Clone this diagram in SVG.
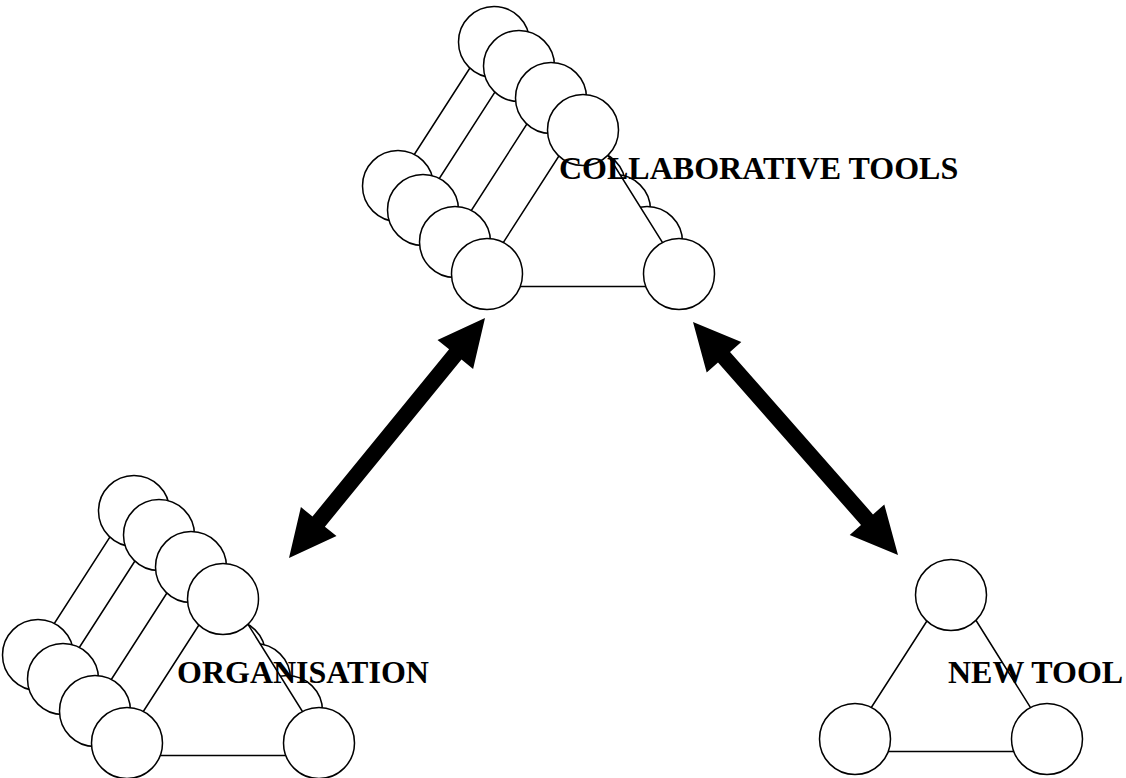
<svg xmlns="http://www.w3.org/2000/svg" xmlns:xlink="http://www.w3.org/1999/xlink" width="1126" height="778" viewBox="0 0 1126 778">
<style>
.ln{fill:#fff;stroke:#000;stroke-width:1.5}
.lbl{font-family:"Liberation Serif","Times New Roman",serif;font-weight:bold;font-size:32px;fill:#000}
.arr{fill:#000;stroke:none}
</style>
<defs>
<g id="layer">
<polygon class="ln" points="-12,12.5 97,-157 203,12.5"/>
<circle class="ln" cx="0" cy="0" r="35.5"/>
<circle class="ln" cx="96" cy="-144" r="35.5"/>
<circle class="ln" cx="192" cy="0" r="35.5"/>
</g>
</defs>
<rect width="1126" height="778" fill="#fff"/>
<g id="connectors">
<polygon class="arr" points="485,318 473.1,368.9 461.5,359.5 324.9,526.7 336.5,536.1 289,558 300.9,507.1 312.5,516.5 449.1,349.3 437.5,339.9"/>
<polygon class="arr" points="693,322 741.3,342.1 730,352 873,514.4 884.3,504.5 898,555 849.7,534.9 861,525 718,362.6 706.7,372.5"/>
</g>
<g id="collaborative-tools">
<use xlink:href="#layer" x="398" y="186"/>
<use xlink:href="#layer" x="423" y="210"/>
<use xlink:href="#layer" x="455" y="242"/>
<use xlink:href="#layer" x="487" y="274"/>
<text class="lbl" x="559" y="179">COLLABORATIVE TOOLS</text>
</g>
<g id="organisation">
<use xlink:href="#layer" x="38" y="655"/>
<use xlink:href="#layer" x="63" y="679"/>
<use xlink:href="#layer" x="95" y="711"/>
<use xlink:href="#layer" x="127" y="743"/>
<text class="lbl" x="177" y="683">ORGANISATION</text>
</g>
<g id="new-tool">
<use xlink:href="#layer" x="855" y="739"/>
<text class="lbl" x="948" y="683">NEW TOOL</text>
</g>
</svg>
